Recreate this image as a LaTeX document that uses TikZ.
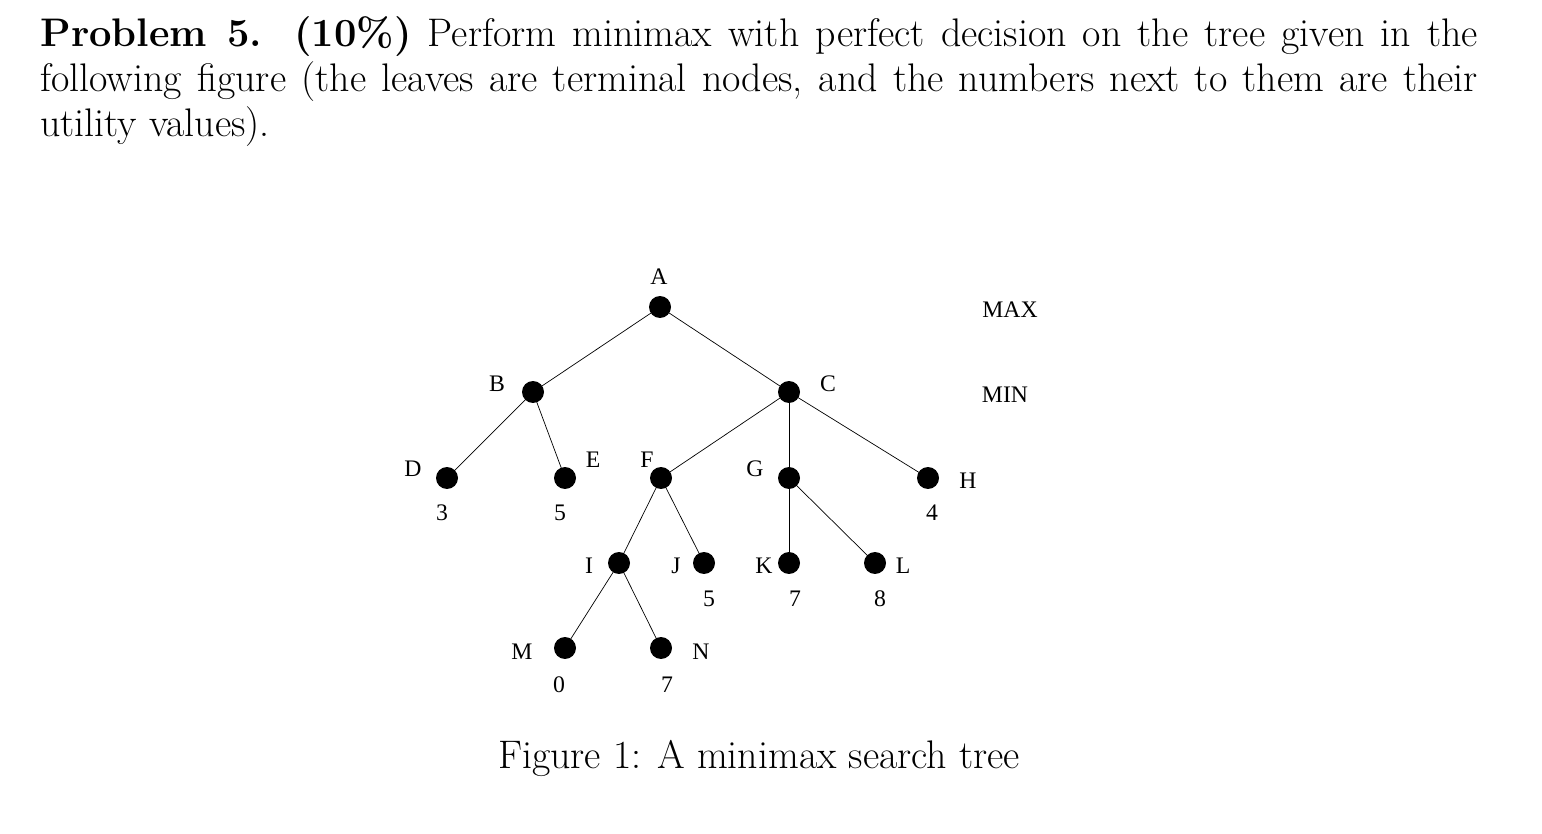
\documentclass[tikz,border=0pt]{standalone}
\usepackage{fontspec}
\newfontfamily\tms{Liberation Serif}
\begin{document}
\begin{tikzpicture}[x=0.02cm,y=-0.02cm,
  dot/.style={circle,fill=black,inner sep=0pt,minimum size=0.44cm},
  lab/.style={font=\tms\fontsize{13.5}{15}\selectfont,inner sep=0pt},
  big/.style={font=\fontsize{22.7}{25.6}\selectfont,inner sep=0pt}]
\useasboundingbox (0,0) rectangle (1542,834);
\node[big,anchor=north west,text width=28.76cm,align=justify] (t) at (40,16)
 {\textbf{Problem 5.}\ \ \textbf{(10\%)} Perform minimax with perfect decision on the tree given in the\linebreak following figure (the leaves are terminal nodes, and the numbers next to them are their\linebreak utility values).};
\foreach \n/\x/\y in {A/660/307,B/533/392,C/789/392,D/447/478,E/565/478,F/661/478,G/789/478,H/928/478,I/619/563,J/704/563,K/789/563,L/875/563,M/565/648,N/661/648}
  \node[dot] (\n) at (\x,\y) {};
\foreach \a/\b in {A/B,A/C,B/D,B/E,C/F,C/G,C/H,F/I,F/J,G/K,G/L,I/M,I/N}
  \draw[line width=0.4pt] (\a.center) -- (\b.center);
\foreach \t/\x/\y [count=\i] in {A/659/277,B/497/384,C/828/384,D/413/469,E/593/460,F/647/460,G/755/469,H/968/481,3/442/513,5/560/513,4/932/513,I/589/566,J/676/566,K/764/566,L/903/566,5/709/599,7/795/599,8/880/599,M/522/652,N/701/652,0/559/685,7/667/685,MAX/1010/310,MIN/1005/395}
  \node[lab] (l\i) at (\x,\y) {\t};
\node[big] (cap) at (759,758) {Figure 1: A minimax search tree};
\end{tikzpicture}
\end{document}
